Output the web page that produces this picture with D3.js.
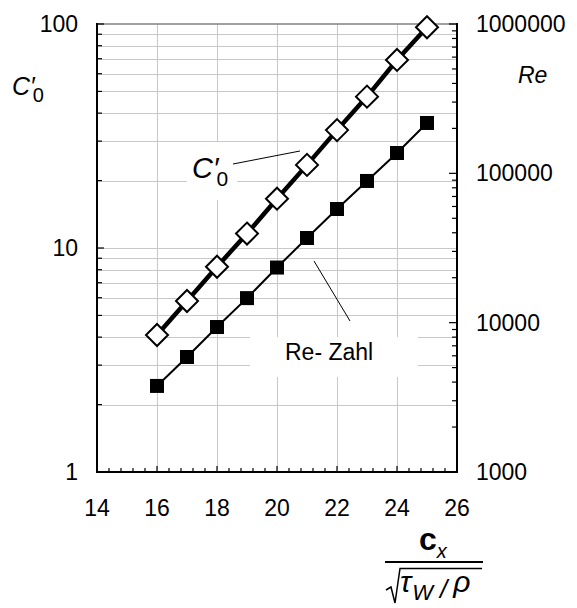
<!DOCTYPE html>
<html>
<head>
<meta charset="utf-8">
<script src="https://cdn.jsdelivr.net/npm/d3@7"></script>
<style>
  body { margin: 0; background: #fff; }
  svg text { font-family: "Liberation Sans", Arial, sans-serif; fill: #000; }
</style>
</head>
<body>
<svg id="chart" width="577" height="608"></svg>
<script>
// data
var xVals = [16, 17, 18, 19, 20, 21, 22, 23, 24, 25];
var c0Vals = [4.09, 5.80, 8.25, 11.6, 16.6, 23.5, 33.6, 47.4, 69.1, 96.7];
var reVals = [3770, 5890, 9350, 14600, 23400, 36900, 57700, 88900, 136800, 217400];
var xTicks = [14, 16, 18, 20, 22, 24, 26];
var leftTicks = [1, 10, 100];
var rightTicks = [1000, 10000, 100000, 1000000];

var svg = d3.select("#chart"),
    plotL = 97, plotR = 457, plotT = 24, plotB = 472;

var x = d3.scaleLinear().domain([14, 26]).range([plotL, plotR]);
var yL = d3.scaleLog().domain([1, 100]).range([plotB, plotT]);
var yR = d3.scaleLog().domain([1000, 1000000]).range([plotB, plotT]);

// minor log positions
var leftMinor = [];
[1, 10].forEach(function (d) {
    for (var k = 2; k <= 9; k++) leftMinor.push(d * k);
});
var rightMinor = [];
[1000, 10000, 100000].forEach(function (d) {
    for (var k = 2; k <= 9; k++) rightMinor.push(d * k);
});
var xMinor = d3.range(14, 26.001, 0.4);

var grid = svg.append("g").attr("stroke", "#c8c8c8").attr("stroke-width", 1);

grid.selectAll(".hg")
    .data(leftMinor.concat([10]))
    .enter().append("line")
    .attr("x1", plotL).attr("x2", plotR)
    .attr("y1", function (d) { return Math.round(yL(d)) + 0.5; })
    .attr("y2", function (d) { return Math.round(yL(d)) + 0.5; });

grid.selectAll(".vg")
    .data([16, 18, 20, 22, 24])
    .enter().append("line")
    .attr("x1", function (d) { return Math.round(x(d)) + 0.5; })
    .attr("x2", function (d) { return Math.round(x(d)) + 0.5; })
    .attr("y1", plotT).attr("y2", plotB);

// white label boxes
svg.append("rect").attr("x", 187).attr("y", 142).attr("width", 50).attr("height", 58).attr("fill", "#fff");
svg.append("rect").attr("x", 250).attr("y", 337).attr("width", 168).attr("height", 40).attr("fill", "#fff");

// frame
svg.append("line").attr("x1", plotL).attr("x2", plotR).attr("y1", plotT).attr("y2", plotT)
    .attr("stroke", "#808080").attr("stroke-width", 1.5);

var axes = svg.append("g").attr("stroke", "#000");

axes.append("line").attr("x1", plotL).attr("x2", plotL).attr("y1", plotT - 1).attr("y2", plotB + 1).attr("stroke-width", 2);
axes.append("line").attr("x1", plotR).attr("x2", plotR).attr("y1", plotT - 1).attr("y2", plotB + 1).attr("stroke-width", 2);
axes.append("line").attr("x1", plotL - 1).attr("x2", plotR + 1).attr("y1", plotB).attr("y2", plotB).attr("stroke-width", 2);

// left ticks (inside)
axes.selectAll(".lt")
    .data(leftMinor.concat(leftTicks))
    .enter().append("line")
    .attr("x1", plotL).attr("x2", function (d) { return leftTicks.indexOf(d) >= 0 ? plotL + 7 : plotL + 5; })
    .attr("y1", function (d) { return yL(d); })
    .attr("y2", function (d) { return yL(d); })
    .attr("stroke-width", 1.2);

// right ticks (inside)
axes.selectAll(".rt")
    .data(rightMinor.concat(rightTicks))
    .enter().append("line")
    .attr("x1", plotR).attr("x2", function (d) { return rightTicks.indexOf(d) >= 0 ? plotR - 8 : plotR - 5; })
    .attr("y1", function (d) { return yR(d); })
    .attr("y2", function (d) { return yR(d); })
    .attr("stroke-width", 1.2);

// bottom ticks (inside)
axes.selectAll(".bt")
    .data(xMinor)
    .enter().append("line")
    .attr("x1", function (d) { return x(d); })
    .attr("x2", function (d) { return x(d); })
    .attr("y1", plotB)
    .attr("y2", function (d) { return Math.abs(d / 2 - Math.round(d / 2)) < 0.01 ? plotB - 6 : plotB - 4; })
    .attr("stroke-width", 1.2);

// tick labels
svg.selectAll(".xl")
    .data(xTicks)
    .enter().append("text")
    .attr("x", function (d) { return x(d); })
    .attr("y", 516)
    .attr("text-anchor", "middle")
    .style("font-size", "23px")
    .text(function (d) { return d; });

svg.selectAll(".yl")
    .data(leftTicks)
    .enter().append("text")
    .attr("x", 78)
    .attr("y", function (d) { return yL(d) + 8; })
    .attr("text-anchor", "end")
    .style("font-size", "23px")
    .text(function (d) { return d; });

svg.selectAll(".yr")
    .data(rightTicks)
    .enter().append("text")
    .attr("x", 476)
    .attr("y", function (d) { return yR(d) + 8; })
    .style("font-size", "23px")
    .text(function (d) { return d; });

// series
var c0Line = d3.line()
    .x(function (d, i) { return x(xVals[i]); })
    .y(function (d) { return yL(d); });
var reLine = d3.line()
    .x(function (d, i) { return x(xVals[i]); })
    .y(function (d) { return yR(d); });

svg.append("path").datum(reVals).attr("d", reLine)
    .attr("fill", "none").attr("stroke", "#000").attr("stroke-width", 2);
svg.append("path").datum(c0Vals).attr("d", c0Line)
    .attr("fill", "none").attr("stroke", "#000").attr("stroke-width", 4.5);

svg.selectAll(".sq")
    .data(reVals)
    .enter().append("rect")
    .attr("x", function (d, i) { return x(xVals[i]) - 7; })
    .attr("y", function (d) { return yR(d) - 7; })
    .attr("width", 14).attr("height", 14)
    .attr("fill", "#000");

svg.selectAll(".dm")
    .data(c0Vals)
    .enter().append("path")
    .attr("transform", function (d, i) { return "translate(" + x(xVals[i]) + "," + yL(d) + ")"; })
    .attr("d", "M0,-11L11,0L0,11L-11,0Z")
    .attr("fill", "#fff").attr("stroke", "#000").attr("stroke-width", 2);

// annotations
svg.append("line").attr("x1", 233).attr("y1", 164).attr("x2", 300).attr("y2", 151)
    .attr("stroke", "#000").attr("stroke-width", 1);
svg.append("line").attr("x1", 314).attr("y1", 261).attr("x2", 350).attr("y2", 321)
    .attr("stroke", "#000").attr("stroke-width", 1);

// C'_0 with subscript, as one text each
function c0Label(px, py, big, small) {
    var t = svg.append("text").attr("x", px).attr("y", py);
    t.append("tspan").style("font-size", big + "px").style("font-style", "italic").text("C\u2032");
    t.append("tspan").attr("dx", -2).attr("dy", Math.round(big * 0.27)).style("font-size", small + "px").text("0");
}
c0Label(192, 178, 29, 21);
c0Label(12, 95, 25, 20);

svg.append("text").attr("x", 285).attr("y", 360).style("font-size", "23px").text("Re- Zahl");

svg.append("text").attr("x", 518).attr("y", 83).style("font-size", "23px").style("font-style", "italic").text("Re");

// x title: c_x / sqrt(tau_W / rho)
var cx = svg.append("text").attr("x", 419).attr("y", 550);
cx.append("tspan").style("font-size", "32px").style("font-weight", "bold").text("c");
cx.append("tspan").attr("dy", 8).style("font-size", "20px").style("font-style", "italic").text("x");
svg.append("line").attr("x1", 385).attr("x2", 483).attr("y1", 562).attr("y2", 562)
    .attr("stroke", "#000").attr("stroke-width", 2);
svg.append("path").attr("d", "M386,590L391,587L395,603L400,568.5L482,568.5")
    .attr("fill", "none").attr("stroke", "#000").attr("stroke-width", 1.5);
var den = svg.append("text").attr("x", 400).attr("y", 592).style("font-style", "italic");
den.append("tspan").style("font-size", "30px").text("\u03c4");
den.append("tspan").attr("dx", 1).attr("dy", 8).style("font-size", "22px").text("W");
den.append("tspan").attr("dx", 7).attr("dy", -2).style("font-size", "26px").text("/");
den.append("tspan").attr("dx", 6).attr("dy", -6).style("font-size", "30px").text("\u03c1");
</script>
</body>
</html>
